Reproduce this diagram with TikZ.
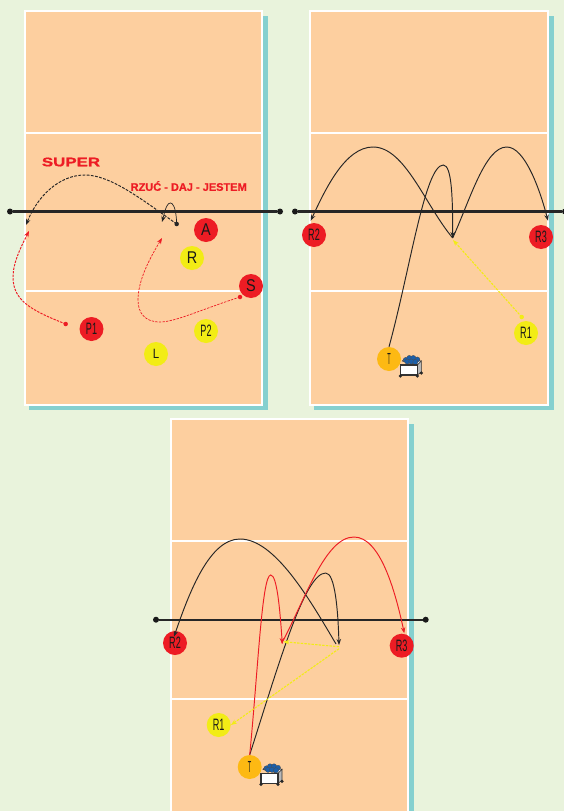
\documentclass[tikz,border=0pt]{standalone}
\usepackage{fontspec}
\usetikzlibrary{arrows.meta, positioning}
\setmainfont{Liberation Sans}
\newfontfamily\wideface[FakeStretch=1.35,FakeBold=1.2]{Liberation Sans Bold}
\newfontfamily\callface[FakeBold=0.8]{Liberation Sans Bold}
\newfontfamily\plainface[FakeStretch=0.85]{Liberation Sans}
\newfontfamily\narrowface[FakeStretch=0.55]{Liberation Sans}
\newfontfamily\thinface[FakeStretch=0.35]{Liberation Sans}
\definecolor{pagegreen}{HTML}{E9F3DC}
\definecolor{courtsand}{HTML}{FDCF9F}
\definecolor{courtteal}{HTML}{85D0CF}
\definecolor{playerred}{HTML}{ED1C24}
\definecolor{playeryellow}{HTML}{F2EC16}
\definecolor{playerorange}{HTML}{FDB913}
\definecolor{cartblue}{HTML}{1B5FAA}

\begin{document}
\begin{tikzpicture}[
        x=1pt, y=-1pt,
        player/.style = {circle, inner sep=0pt, minimum size=24pt, text=black!90},
        red player/.style = {player, fill=playerred},
        yellow player/.style = {player, fill=playeryellow},
        coach/.style = {player, fill=playerorange, font=\thinface\fontsize{16}{16}\selectfont},
        bigname/.style = {font=\plainface\fontsize{17}{17}\selectfont},
        smallname/.style = {font=\narrowface\fontsize{16.5}{16.5}\selectfont},
        netpost/.style = {circle, fill=black!90, inner sep=0pt, minimum size=6pt},
        netline/.style = {black!85, line width=2.1pt},
        startdot/.style = {circle, inner sep=0pt, minimum size=4.5pt},
        shot/.style = {line width=0.95pt, -{Stealth[length=6pt,width=4.5pt]}},
        black shot/.style = {shot, black!85},
        red shot/.style = {shot, playerred},
        red run/.style = {red shot, dashed, dash pattern=on 2.4pt off 1.2pt},
        black run/.style = {black shot, dashed, dash pattern=on 2.8pt off 1.4pt},
        yellow pass/.style = {shot, playeryellow, dashed, line width=1.1pt, dash pattern=on 2.4pt off 1.2pt},
        ballcart/.pic = {
          \fill[gray!55, draw=black!80, line width=0.6pt] (17,0) -- (21,-4) -- (21,7) -- (17,10) -- cycle;
          \fill[white!85!gray, draw=black!80, line width=0.6pt] (2,-4) -- (5,-7) -- (21,-4) -- (17,0) -- cycle;
          \foreach \bx/\by in {5.5/-5,9/-7,13/-7,17/-5.5,7/-3.5,11/-3.5,15/-3}
            \fill[cartblue, draw=black!70, line width=0.3pt] (\bx,\by) circle (2.6pt);
          \fill[white, draw=black!80, line width=1.1pt] (0,0) rectangle (17,10);
          \foreach \wx/\wy in {0/11,17/11,21/8}
            \fill[black!85] (\wx,\wy) circle (1.8pt);
        },
      ]
      \clip (0,0) rectangle (564,811);
      \useasboundingbox (0,0) rectangle (564,811);
      \fill[pagegreen] (0,0) rectangle (564,811);

      % courts
      \foreach \cx/\cy/\cw in {25/11/237, 310/11/238, 171/419/237} {
        \fill[courtteal] (\cx+4,\cy+5) rectangle (\cx+\cw+6,\cy+399);
        \fill[courtsand, draw=white, line width=2.4pt] (\cx,\cy) rectangle (\cx+\cw,\cy+394);
        \draw[white, line width=2.4pt] (\cx,\cy+122) -- (\cx+\cw,\cy+122);
        \draw[white, line width=2.4pt] (\cx,\cy+280) -- (\cx+\cw,\cy+280);
      }

      % first court
      \node[netpost] (postal) at (10,211.5) {};
      \node[netpost] (postar) at (280,211.5) {};
      \draw[netline] (postal) -- (postar);
      \node[red player, bigname] (a) at (206,230) {A};
      \node[yellow player, bigname] (r) at (192,258) {R};
      \node[red player, bigname] (s) at (251,286) {S};
      \node[red player, smallname] (p1) at (91.5,329) {P1};
      \node[yellow player, smallname] (p2) at (206,331) {P2};
      \node[yellow player, font=\plainface\fontsize{13.5}{13.5}\selectfont] (l) at (156,354) {L};
      \node[text=playerred, font=\wideface\fontsize{12.5}{13}\selectfont] (super) at (71,162) {SUPER};
      \node[text=playerred, font=\callface\fontsize{11}{12}\selectfont] (call) at (188.7,186) {RZUĆ - DAJ - JESTEM};
      \node[startdot, fill=black!85] (hita) at (176.7,224) {};
      \node[startdot, fill=playerred] (dotp) at (65.7,324) {};
      \node[startdot, fill=playerred] (dots) at (240,297) {};
      \coordinate (landa) at (26,225);
      \coordinate (runp) at (29,231);
      \coordinate (runs) at (162,238);
      \coordinate (loopa) at (162,222);
      \draw[black run] (hita.center) .. controls (140,198) and (110,175) .. (85,175)
        .. controls (60,175) and (38,195) .. (landa);
      \draw[black shot, line width=0.7pt] (hita.center) .. controls (176,205) and (172,203) .. (170.5,203)
        .. controls (166,203) and (164,215) .. (loopa);
      \draw[red run] (dotp.center) .. controls (30,310) and (13,300) .. (13,277)
        .. controls (13,262) and (22,245) .. (runp);
      \draw[red run, line width=0.7pt] (dots.center) .. controls (200,310) and (175,322) .. (160,322)
        .. controls (145,322) and (138,313) .. (138,300)
        .. controls (138,280) and (150,258) .. (runs);

      % second court
      \node[netpost] (postbl) at (295,211.5) {};
      \node[netpost] (postbr) at (565,211.5) {};
      \draw[netline] (postbl) -- (postbr);
      \node[red player, smallname] (r2b) at (314,235) {R2};
      \node[red player, smallname] (r3b) at (541,237) {R3};
      \node[yellow player, smallname] (r1b) at (526,333) {R1};
      \node[coach] (tb) at (389,359) {T};
      \pic at (400.3,365) {ballcart};
      \node[startdot, fill=playeryellow] (dotb) at (521.7,317) {};
      \coordinate (setb) at (452.7,238);
      \coordinate (passb) at (453,240);
      \coordinate (landbl) at (310.7,220.7);
      \coordinate (landbr) at (548,220.7);
      \draw[black shot] (tb.north) .. controls (410,270) and (425,165) .. (443.3,165)
        .. controls (452,165) and (452.7,200) .. (setb);
      \draw[black shot] (setb) .. controls (425,205) and (405,147) .. (373,147)
        .. controls (345,147) and (325,190) .. (landbl);
      \draw[black shot] (setb) .. controls (470,200) and (485,147) .. (506.7,147)
        .. controls (525,147) and (540,190) .. (landbr);
      \draw[yellow pass] (dotb.center) -- (passb);

      % third court
      \node[netpost] (postcl) at (156,619.7) {};
      \node[netpost] (postcr) at (425.7,619.7) {};
      \draw[netline] (postcl) -- (postcr);
      \node[red player, smallname] (r2c) at (175,643) {R2};
      \node[red player, smallname] (r3c) at (401.7,645.7) {R3};
      \node[yellow player, smallname] (r1c) at (218.7,725) {R1};
      \node[coach] (tc) at (249.7,767) {T};
      \pic at (261,773.3) {ballcart};
      \coordinate (setc) at (339,645);
      \coordinate (hitc) at (336,644);
      \coordinate (setd) at (282.3,644);
      \coordinate (hitd) at (281.7,643.3);
      \coordinate (landcl) at (174,636.7);
      \coordinate (landcr) at (404.3,633.3);
      \coordinate (passc) at (339,648.7);
      \coordinate (passd) at (339,646.7);
      \coordinate (passe) at (283.3,641.7);
      \draw[black shot] (tc.north) .. controls (280,660) and (305,573) .. (325.7,573)
        .. controls (335,573) and (338,610) .. (setc);
      \draw[red shot] (tc.north) .. controls (258,670) and (262,575) .. (270.7,575)
        .. controls (277,575) and (280,610) .. (setd);
      \draw[black shot] (hitc) .. controls (310,600) and (275,539) .. (240,539)
        .. controls (210,539) and (190,590) .. (landcl);
      \draw[red shot] (hitd) .. controls (305,600) and (325,537) .. (354,537)
        .. controls (380,537) and (395,590) .. (landcr);
      \draw[yellow pass] (passc) -- (r1c.east);
      \draw[yellow pass] (passd) -- (passe);
    \end{tikzpicture}
\end{document}
